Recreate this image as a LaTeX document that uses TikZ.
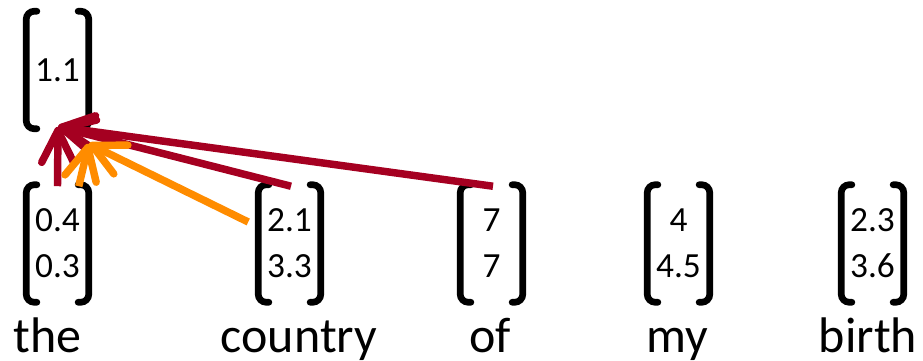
\documentclass[tikz,border=0pt]{standalone}
\usepackage{fontspec}
\setmainfont{Carlito}
\usepackage{xcolor}
\usepackage{tikz}
\usetikzlibrary{arrows.meta}

\definecolor{attnred}{HTML}{A50021}
\definecolor{attnorange}{HTML}{FF8C00}

\begin{document}
\begin{tikzpicture}[x=0.75pt, y=-0.75pt,
  vec/.style={minimum width=46.5pt, minimum height=87.75pt, inner sep=0pt, align=center, font=\fontsize{26.5}{34.5}\selectfont},
  word/.style={anchor=base, inner sep=0pt, font=\fontsize{37.5}{40}\selectfont},
  brk/.style={line width=5pt, rounded corners=6pt, line cap=round},
  attn/.style={line width=5.6pt, -{Straight Barb[length=24pt, width=24pt, line cap=round, line join=round]}}]

\useasboundingbox (0,0) rectangle (923,360);

\node [vec] (vout) at (57.5,70) {1.1};

\node [vec] (vthe) at (57.5,243.5) {0.4\\0.3};
\node [vec] (vcountry) at (289.5,243.5) {2.1\\3.3};
\node [vec] (vof) at (491.5,243.5) {7\\7};
\node [vec] (vmy) at (678.5,243.5) {4\\4.5};
\node [vec] (vbirth) at (872.5,243.5) {2.3\\3.6};

\node [word] (wthe) at (47.5,352) {the};
\node [word] (wcountry) at (299,352) {country};
\node [word] (wof) at (490,352) {of};
\node [word] (wmy) at (677,352) {my};
\node [word] (wbirth) at (868,352) {birth};

% brackets round every vector
\foreach \v in {vout,vthe,vcountry,vof,vmy,vbirth} {
  \draw[brk] ([xshift=8pt]\v.north west) -- (\v.north west) -- (\v.south west) -- ([xshift=8pt]\v.south west);
  \draw[brk] ([xshift=-8pt]\v.north east) -- (\v.north east) -- (\v.south east) -- ([xshift=-8pt]\v.south east);
}

\coordinate (rtip) at ([shift={(0.5,-2)}]vout.south);
\coordinate (otip) at ([shift={(0,15)}]vout.south east);

\draw[attn, attnred] ([shift={(0,1.5)}]vthe.north) -- (rtip);
\draw[attn, attnred] ([shift={(1.5,1.5)}]vcountry.north) -- (rtip);
\draw[attn, attnred] ([shift={(1.5,1.5)}]vof.north) -- (rtip);

\draw[attn, attnorange] ([shift={(-10,1.5)}]vthe.north east) -- (otip);
\draw[attn, attnorange] ([shift={(-10,-21.5)}]vcountry.west) -- (otip);

\end{tikzpicture}
\end{document}
